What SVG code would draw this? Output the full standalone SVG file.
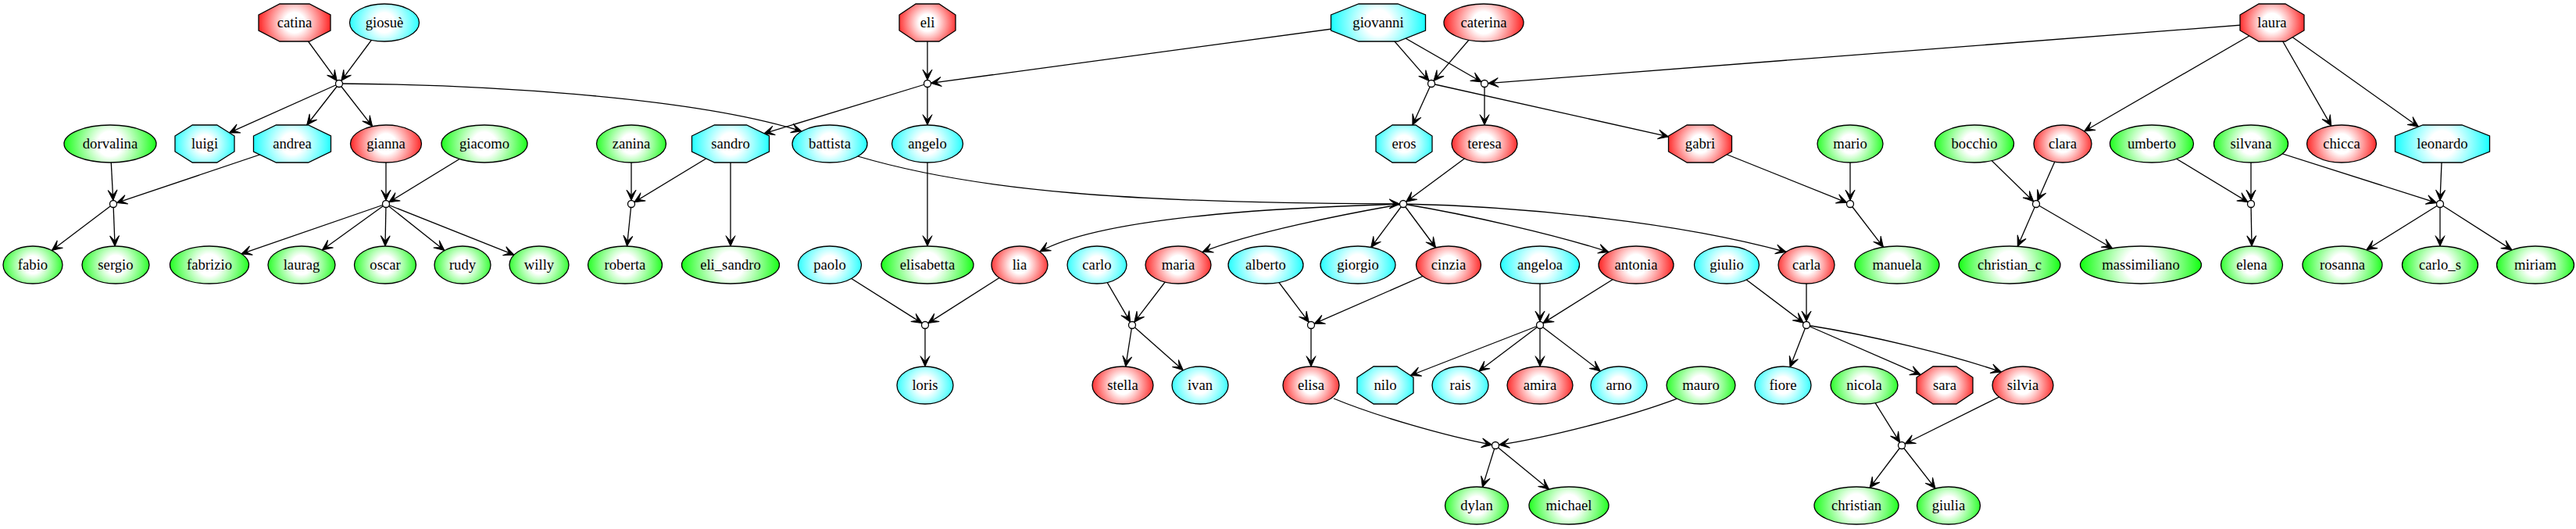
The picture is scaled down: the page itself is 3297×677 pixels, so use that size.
<svg xmlns="http://www.w3.org/2000/svg" width="3297" height="677" viewBox="0 0 3297 677">
<style>
.e{fill:none;stroke:#000;stroke-width:1.3;marker-end:url(#vee)}
.n{stroke:#000;stroke-width:1.3}
.j{fill:#fff;stroke:#000;stroke-width:1.3}
text{font-family:"Liberation Serif","Times New Roman",serif;font-size:18.67px;text-anchor:middle;fill:#000}
</style>
<defs>
<marker id="vee" viewBox="-14 -7 15 14" refX="0" refY="0" markerWidth="15" markerHeight="14" markerUnits="userSpaceOnUse" orient="auto"><path d="M0,0 L-13.3,-6 L-6.7,0 L-13.3,6 Z" fill="#000" stroke="#000" stroke-width="1"/></marker>
<radialGradient id="R" gradientUnits="userSpaceOnUse"><stop offset=".25" stop-color="#fff"/><stop offset="1" stop-color="#f00"/></radialGradient>
<radialGradient id="C" gradientUnits="userSpaceOnUse"><stop offset=".25" stop-color="#fff"/><stop offset="1" stop-color="#0ff"/></radialGradient>
<radialGradient id="G" gradientUnits="userSpaceOnUse"><stop offset=".25" stop-color="#fff"/><stop offset="1" stop-color="#0f0"/></radialGradient>
<radialGradient id="f-catina" href="#R" gradientUnits="userSpaceOnUse" cx="377" cy="29" r="51.9"/>
<radialGradient id="f-giosue" href="#C" gradientUnits="userSpaceOnUse" cx="492" cy="29" r="50.6"/>
<radialGradient id="f-eli" href="#R" gradientUnits="userSpaceOnUse" cx="1187" cy="29" r="43.3"/>
<radialGradient id="f-giovanni" href="#C" gradientUnits="userSpaceOnUse" cx="1764" cy="29" r="65.1"/>
<radialGradient id="f-caterina" href="#R" gradientUnits="userSpaceOnUse" cx="1899" cy="29" r="56.4"/>
<radialGradient id="f-laura" href="#R" gradientUnits="userSpaceOnUse" cx="2908" cy="29" r="47.5"/>
<radialGradient id="f-dorvalina" href="#G" gradientUnits="userSpaceOnUse" cx="141" cy="184" r="63.7"/>
<radialGradient id="f-luigi" href="#C" gradientUnits="userSpaceOnUse" cx="262" cy="184" r="44.9"/>
<radialGradient id="f-andrea" href="#C" gradientUnits="userSpaceOnUse" cx="374" cy="184" r="55"/>
<radialGradient id="f-gianna" href="#R" gradientUnits="userSpaceOnUse" cx="494" cy="184" r="51.4"/>
<radialGradient id="f-giacomo" href="#G" gradientUnits="userSpaceOnUse" cx="620" cy="184" r="60"/>
<radialGradient id="f-zanina" href="#G" gradientUnits="userSpaceOnUse" cx="808" cy="184" r="50.6"/>
<radialGradient id="f-sandro" href="#C" gradientUnits="userSpaceOnUse" cx="935" cy="184" r="55"/>
<radialGradient id="f-battista" href="#C" gradientUnits="userSpaceOnUse" cx="1062" cy="184" r="53.7"/>
<radialGradient id="f-angelo" href="#C" gradientUnits="userSpaceOnUse" cx="1187" cy="184" r="51.4"/>
<radialGradient id="f-eros" href="#C" gradientUnits="userSpaceOnUse" cx="1797" cy="184" r="43.3"/>
<radialGradient id="f-teresa" href="#R" gradientUnits="userSpaceOnUse" cx="1900" cy="184" r="48.4"/>
<radialGradient id="f-gabri" href="#R" gradientUnits="userSpaceOnUse" cx="2176" cy="184" r="47.1"/>
<radialGradient id="f-mario" href="#G" gradientUnits="userSpaceOnUse" cx="2368" cy="184" r="48.4"/>
<radialGradient id="f-bocchio" href="#G" gradientUnits="userSpaceOnUse" cx="2527" cy="184" r="55.9"/>
<radialGradient id="f-clara" href="#R" gradientUnits="userSpaceOnUse" cx="2640" cy="184" r="44.1"/>
<radialGradient id="f-umberto" href="#G" gradientUnits="userSpaceOnUse" cx="2754" cy="184" r="58.6"/>
<radialGradient id="f-silvana" href="#G" gradientUnits="userSpaceOnUse" cx="2881" cy="184" r="53.2"/>
<radialGradient id="f-chicca" href="#R" gradientUnits="userSpaceOnUse" cx="2997" cy="184" r="50.6"/>
<radialGradient id="f-leonardo" href="#C" gradientUnits="userSpaceOnUse" cx="3126" cy="184" r="65.1"/>
<radialGradient id="f-fabio" href="#G" gradientUnits="userSpaceOnUse" cx="42" cy="339" r="44.9"/>
<radialGradient id="f-sergio" href="#G" gradientUnits="userSpaceOnUse" cx="148" cy="339" r="49.2"/>
<radialGradient id="f-fabrizio" href="#G" gradientUnits="userSpaceOnUse" cx="268" cy="339" r="55.9"/>
<radialGradient id="f-laurag" href="#G" gradientUnits="userSpaceOnUse" cx="386" cy="339" r="49.2"/>
<radialGradient id="f-oscar" href="#G" gradientUnits="userSpaceOnUse" cx="493" cy="339" r="46.2"/>
<radialGradient id="f-rudy" href="#G" gradientUnits="userSpaceOnUse" cx="592" cy="339" r="43.3"/>
<radialGradient id="f-willy" href="#G" gradientUnits="userSpaceOnUse" cx="690" cy="339" r="44.9"/>
<radialGradient id="f-roberta" href="#G" gradientUnits="userSpaceOnUse" cx="800" cy="339" r="53.2"/>
<radialGradient id="f-eli_sandro" href="#G" gradientUnits="userSpaceOnUse" cx="935" cy="339" r="67"/>
<radialGradient id="f-paolo" href="#C" gradientUnits="userSpaceOnUse" cx="1062" cy="339" r="47.1"/>
<radialGradient id="f-elisabetta" href="#G" gradientUnits="userSpaceOnUse" cx="1187" cy="339" r="63.7"/>
<radialGradient id="f-lia" href="#R" gradientUnits="userSpaceOnUse" cx="1305" cy="339" r="43.3"/>
<radialGradient id="f-carlo" href="#C" gradientUnits="userSpaceOnUse" cx="1404" cy="339" r="44.9"/>
<radialGradient id="f-maria" href="#R" gradientUnits="userSpaceOnUse" cx="1508" cy="339" r="48.4"/>
<radialGradient id="f-alberto" href="#C" gradientUnits="userSpaceOnUse" cx="1620" cy="339" r="53.7"/>
<radialGradient id="f-giorgio" href="#C" gradientUnits="userSpaceOnUse" cx="1738" cy="339" r="53.7"/>
<radialGradient id="f-cinzia" href="#R" gradientUnits="userSpaceOnUse" cx="1854" cy="339" r="47.9"/>
<radialGradient id="f-angeloa" href="#C" gradientUnits="userSpaceOnUse" cx="1971" cy="339" r="55.9"/>
<radialGradient id="f-antonia" href="#R" gradientUnits="userSpaceOnUse" cx="2094" cy="339" r="53.7"/>
<radialGradient id="f-giulio" href="#C" gradientUnits="userSpaceOnUse" cx="2210" cy="339" r="47.9"/>
<radialGradient id="f-carla" href="#R" gradientUnits="userSpaceOnUse" cx="2312" cy="339" r="43.3"/>
<radialGradient id="f-manuela" href="#G" gradientUnits="userSpaceOnUse" cx="2428" cy="339" r="59.1"/>
<radialGradient id="f-christian_c" href="#G" gradientUnits="userSpaceOnUse" cx="2572" cy="339" r="69.3"/>
<radialGradient id="f-massimiliano" href="#G" gradientUnits="userSpaceOnUse" cx="2740" cy="339" r="81.1"/>
<radialGradient id="f-elena" href="#G" gradientUnits="userSpaceOnUse" cx="2882" cy="339" r="46.2"/>
<radialGradient id="f-rosanna" href="#G" gradientUnits="userSpaceOnUse" cx="2998" cy="339" r="56.4"/>
<radialGradient id="f-carlo_s" href="#G" gradientUnits="userSpaceOnUse" cx="3123" cy="339" r="54.1"/>
<radialGradient id="f-miriam" href="#G" gradientUnits="userSpaceOnUse" cx="3245" cy="339" r="55"/>
<radialGradient id="f-loris" href="#C" gradientUnits="userSpaceOnUse" cx="1184" cy="493" r="43.3"/>
<radialGradient id="f-stella" href="#R" gradientUnits="userSpaceOnUse" cx="1437" cy="493" r="45.8"/>
<radialGradient id="f-ivan" href="#C" gradientUnits="userSpaceOnUse" cx="1536" cy="493" r="43.3"/>
<radialGradient id="f-elisa" href="#R" gradientUnits="userSpaceOnUse" cx="1678" cy="493" r="43.3"/>
<radialGradient id="f-nilo" href="#C" gradientUnits="userSpaceOnUse" cx="1773" cy="493" r="43.3"/>
<radialGradient id="f-rais" href="#C" gradientUnits="userSpaceOnUse" cx="1869" cy="493" r="43.3"/>
<radialGradient id="f-amira" href="#R" gradientUnits="userSpaceOnUse" cx="1971" cy="493" r="48.4"/>
<radialGradient id="f-arno" href="#C" gradientUnits="userSpaceOnUse" cx="2072" cy="493" r="43.3"/>
<radialGradient id="f-mauro" href="#G" gradientUnits="userSpaceOnUse" cx="2177" cy="493" r="50.1"/>
<radialGradient id="f-fiore" href="#C" gradientUnits="userSpaceOnUse" cx="2282" cy="493" r="43.3"/>
<radialGradient id="f-nicola" href="#G" gradientUnits="userSpaceOnUse" cx="2386" cy="493" r="49.2"/>
<radialGradient id="f-sara" href="#R" gradientUnits="userSpaceOnUse" cx="2489" cy="493" r="43.3"/>
<radialGradient id="f-silvia" href="#R" gradientUnits="userSpaceOnUse" cx="2589" cy="493" r="45.8"/>
<radialGradient id="f-dylan" href="#G" gradientUnits="userSpaceOnUse" cx="1890" cy="647" r="47.1"/>
<radialGradient id="f-michael" href="#G" gradientUnits="userSpaceOnUse" cx="2008" cy="647" r="56.4"/>
<radialGradient id="f-christian" href="#G" gradientUnits="userSpaceOnUse" cx="2376" cy="647" r="59.1"/>
<radialGradient id="f-giulia" href="#G" gradientUnits="userSpaceOnUse" cx="2494" cy="647" r="47.1"/>
</defs>
<rect width="3297" height="677" fill="#fff"/>
<g id="connectors">
<path class="e" d="M377,29 L431.3,103.4"/>
<path class="e" d="M492,29 L436.7,103.4"/>
<path class="e" d="M434,107 L293.4,169.9"/>
<path class="e" d="M434,107 L392.7,160"/>
<path class="e" d="M434,107 L476.7,161.8"/>
<path class="e" d="M434,107 C600,108 880,122 1026,168"/>
<path class="e" d="M141,184 L144.8,256.5"/>
<path class="e" d="M374,184 L149.3,259.6"/>
<path class="e" d="M145,261 L66.3,320.6"/>
<path class="e" d="M145,261 L147.1,315"/>
<path class="e" d="M494,184 L494,256.5"/>
<path class="e" d="M620,184 L497.8,258.7"/>
<path class="e" d="M494,261 L308.9,324.9"/>
<path class="e" d="M494,261 L412.3,320"/>
<path class="e" d="M494,261 L493,315"/>
<path class="e" d="M494,261 L568.9,320.6"/>
<path class="e" d="M494,261 L657.9,326.2"/>
<path class="e" d="M808,184 L808,256.5"/>
<path class="e" d="M935,184 L811.8,258.7"/>
<path class="e" d="M808,261 L802.5,315"/>
<path class="e" d="M935,184 L935,315"/>
<path class="e" d="M1187,29 L1187,102.5"/>
<path class="e" d="M1764,29 L1191.5,106.4"/>
<path class="e" d="M1187,107 L977.9,170.9"/>
<path class="e" d="M1187,107 L1187,160"/>
<path class="e" d="M1187,184 L1187,315"/>
<path class="e" d="M1764,29 L1829,103.6"/>
<path class="e" d="M1899,29 L1834.9,103.6"/>
<path class="e" d="M1832,107 L1807.9,160"/>
<path class="e" d="M1832,107 L2135.5,174.9"/>
<path class="e" d="M1764,29 L1896.1,104.8"/>
<path class="e" d="M2908,29 L1904.5,106.65"/>
<path class="e" d="M1900,107 L1900,160"/>
<path class="e" d="M1900,184 L1799.6,258.3"/>
<path class="e" d="M1098,200 C1250,245 1450,260 1791.5,261"/>
<path class="e" d="M1796,261 C1700,264 1420,272 1331,322"/>
<path class="e" d="M1796,261 C1720,274 1600,298 1539,322.5"/>
<path class="e" d="M1796,261 L1754.7,316.5"/>
<path class="e" d="M1796,261 L1837.6,317"/>
<path class="e" d="M1796,261 C1880,275 1990,300 2059,322.5"/>
<path class="e" d="M1796,261 C1950,264 2150,285 2286,322.5"/>
<path class="e" d="M1062,339 L1180.2,413.6"/>
<path class="e" d="M1305,339 L1187.8,413.6"/>
<path class="e" d="M1184,416 L1184,469"/>
<path class="e" d="M1404,339 L1446.7,412.1"/>
<path class="e" d="M1508,339 L1451.7,412.4"/>
<path class="e" d="M1449,416 L1440.7,469.1"/>
<path class="e" d="M1449,416 L1514.3,473.8"/>
<path class="e" d="M1620,339 L1675.3,412.4"/>
<path class="e" d="M1854,339 L1682.1,414.2"/>
<path class="e" d="M1678,416 L1678,469"/>
<path class="e" d="M1971,339 L1971,411.5"/>
<path class="e" d="M2094,339 L1974.8,413.6"/>
<path class="e" d="M1971,416 L1805.2,480.5"/>
<path class="e" d="M1971,416 L1892.8,475"/>
<path class="e" d="M1971,416 L1971,469"/>
<path class="e" d="M1971,416 L2048.3,474.9"/>
<path class="e" d="M1707,510 C1760,532 1850,558 1909.6,569.2"/>
<path class="e" d="M2146,510.3 C2080,535 1980,560 1918.5,569.3"/>
<path class="e" d="M1914,570 L1897.4,623.4"/>
<path class="e" d="M1914,570 L1982.6,626.2"/>
<path class="e" d="M2176,184 L2363.8,259.3"/>
<path class="e" d="M2368,184 L2368,256.5"/>
<path class="e" d="M2368,261 L2410.5,316.3"/>
<path class="e" d="M2527,184 L2602.8,257.9"/>
<path class="e" d="M2640,184 L2607.8,256.9"/>
<path class="e" d="M2606,261 L2582.3,315.3"/>
<path class="e" d="M2606,261 L2703.6,317.8"/>
<path class="e" d="M2210,339 L2308.4,413.3"/>
<path class="e" d="M2312,339 L2312,411.5"/>
<path class="e" d="M2312,416 L2291,469.8"/>
<path class="e" d="M2312,416 L2458.2,479.6"/>
<path class="e" d="M2312,416 C2400,430 2500,455 2561.5,476"/>
<path class="e" d="M2386,493 L2431.6,566.2"/>
<path class="e" d="M2589,493 L2438,568"/>
<path class="e" d="M2434,570 L2393.1,624.2"/>
<path class="e" d="M2434,570 L2477,625.2"/>
<path class="e" d="M2908,29 L2667.6,168"/>
<path class="e" d="M2908,29 L2983.8,161.1"/>
<path class="e" d="M2908,29 L3095.4,162.2"/>
<path class="e" d="M2754,184 L2877.2,258.7"/>
<path class="e" d="M2881,184 L2881,256.5"/>
<path class="e" d="M2881,261 L2882,315"/>
<path class="e" d="M2881,184 L3118.7,259.6"/>
<path class="e" d="M3126,184 L3123,256.5"/>
<path class="e" d="M3123,261 L3028.7,319.8"/>
<path class="e" d="M3123,261 L3123,315"/>
<path class="e" d="M3123,261 L3215.1,319.9"/>
</g>
<g id="junctions">
<circle id="j1" class="j" cx="434" cy="107" r="4.5"/>
<circle id="j2" class="j" cx="1187" cy="107" r="4.5"/>
<circle id="j3" class="j" cx="1832" cy="107" r="4.5"/>
<circle id="j4" class="j" cx="1900" cy="107" r="4.5"/>
<circle id="j5" class="j" cx="145" cy="261" r="4.5"/>
<circle id="j6" class="j" cx="494" cy="261" r="4.5"/>
<circle id="j7" class="j" cx="808" cy="261" r="4.5"/>
<circle id="j8" class="j" cx="1796" cy="261" r="4.5"/>
<circle id="j9" class="j" cx="2368" cy="261" r="4.5"/>
<circle id="j10" class="j" cx="2606" cy="261" r="4.5"/>
<circle id="j11" class="j" cx="2881" cy="261" r="4.5"/>
<circle id="j12" class="j" cx="3123" cy="261" r="4.5"/>
<circle id="j13" class="j" cx="1184" cy="416" r="4.5"/>
<circle id="j14" class="j" cx="1449" cy="416" r="4.5"/>
<circle id="j15" class="j" cx="1678" cy="416" r="4.5"/>
<circle id="j16" class="j" cx="1971" cy="416" r="4.5"/>
<circle id="j17" class="j" cx="2312" cy="416" r="4.5"/>
<circle id="j18" class="j" cx="1914" cy="570" r="4.5"/>
<circle id="j19" class="j" cx="2434" cy="570" r="4.5"/>
</g>
<g id="n-catina"><polygon class="n" fill="url(#f-catina)" points="331,19 358,5 396,5 423,19 423,39 396,53 358,53 331,39"/><text x="377" y="34.5">catina</text></g>
<g id="n-giosue"><ellipse class="n" fill="url(#f-giosue)" cx="492" cy="29" rx="44.5" ry="24"/><text x="492" y="34.5">giosuè</text></g>
<g id="n-eli"><polygon class="n" fill="url(#f-eli)" points="1151,19 1172.1,5 1201.9,5 1223,19 1223,39 1201.9,53 1172.1,53 1151,39"/><text x="1187" y="34.5">eli</text></g>
<g id="n-giovanni"><polygon class="n" fill="url(#f-giovanni)" points="1703.5,19 1739,5 1789,5 1824.5,19 1824.5,39 1789,53 1739,53 1703.5,39"/><text x="1764" y="34.5">giovanni</text></g>
<g id="n-caterina"><ellipse class="n" fill="url(#f-caterina)" cx="1899" cy="29" rx="51" ry="24"/><text x="1899" y="34.5">caterina</text></g>
<g id="n-laura"><polygon class="n" fill="url(#f-laura)" points="2867,19 2891,5 2925,5 2949,19 2949,39 2925,53 2891,53 2867,39"/><text x="2908" y="34.5">laura</text></g>
<g id="n-dorvalina"><ellipse class="n" fill="url(#f-dorvalina)" cx="141" cy="184" rx="59" ry="24"/><text x="141" y="189.5">dorvalina</text></g>
<g id="n-luigi"><polygon class="n" fill="url(#f-luigi)" points="224,174 246.3,160 277.7,160 300,174 300,194 277.7,208 246.3,208 224,194"/><text x="262" y="189.5">luigi</text></g>
<g id="n-andrea"><polygon class="n" fill="url(#f-andrea)" points="324.5,174 353.5,160 394.5,160 423.5,174 423.5,194 394.5,208 353.5,208 324.5,194"/><text x="374" y="189.5">andrea</text></g>
<g id="n-gianna"><ellipse class="n" fill="url(#f-gianna)" cx="494" cy="184" rx="45.5" ry="24"/><text x="494" y="189.5">gianna</text></g>
<g id="n-giacomo"><ellipse class="n" fill="url(#f-giacomo)" cx="620" cy="184" rx="55" ry="24"/><text x="620" y="189.5">giacomo</text></g>
<g id="n-zanina"><ellipse class="n" fill="url(#f-zanina)" cx="808" cy="184" rx="44.5" ry="24"/><text x="808" y="189.5">zanina</text></g>
<g id="n-sandro"><polygon class="n" fill="url(#f-sandro)" points="885.5,174 914.5,160 955.5,160 984.5,174 984.5,194 955.5,208 914.5,208 885.5,194"/><text x="935" y="189.5">sandro</text></g>
<g id="n-battista"><ellipse class="n" fill="url(#f-battista)" cx="1062" cy="184" rx="48" ry="24"/><text x="1062" y="189.5">battista</text></g>
<g id="n-angelo"><ellipse class="n" fill="url(#f-angelo)" cx="1187" cy="184" rx="45.5" ry="24"/><text x="1187" y="189.5">angelo</text></g>
<g id="n-eros"><polygon class="n" fill="url(#f-eros)" points="1761,174 1782.1,160 1811.9,160 1833,174 1833,194 1811.9,208 1782.1,208 1761,194"/><text x="1797" y="189.5">eros</text></g>
<g id="n-teresa"><ellipse class="n" fill="url(#f-teresa)" cx="1900" cy="184" rx="42" ry="24"/><text x="1900" y="189.5">teresa</text></g>
<g id="n-gabri"><polygon class="n" fill="url(#f-gabri)" points="2135.5,174 2159.2,160 2192.8,160 2216.5,174 2216.5,194 2192.8,208 2159.2,208 2135.5,194"/><text x="2176" y="189.5">gabri</text></g>
<g id="n-mario"><ellipse class="n" fill="url(#f-mario)" cx="2368" cy="184" rx="42" ry="24"/><text x="2368" y="189.5">mario</text></g>
<g id="n-bocchio"><ellipse class="n" fill="url(#f-bocchio)" cx="2527" cy="184" rx="50.5" ry="24"/><text x="2527" y="189.5">bocchio</text></g>
<g id="n-clara"><ellipse class="n" fill="url(#f-clara)" cx="2640" cy="184" rx="37" ry="24"/><text x="2640" y="189.5">clara</text></g>
<g id="n-umberto"><ellipse class="n" fill="url(#f-umberto)" cx="2754" cy="184" rx="53.5" ry="24"/><text x="2754" y="189.5">umberto</text></g>
<g id="n-silvana"><ellipse class="n" fill="url(#f-silvana)" cx="2881" cy="184" rx="47.5" ry="24"/><text x="2881" y="189.5">silvana</text></g>
<g id="n-chicca"><ellipse class="n" fill="url(#f-chicca)" cx="2997" cy="184" rx="44.5" ry="24"/><text x="2997" y="189.5">chicca</text></g>
<g id="n-leonardo"><polygon class="n" fill="url(#f-leonardo)" points="3065.5,174 3101,160 3151,160 3186.5,174 3186.5,194 3151,208 3101,208 3065.5,194"/><text x="3126" y="189.5">leonardo</text></g>
<g id="n-fabio"><ellipse class="n" fill="url(#f-fabio)" cx="42" cy="339" rx="38" ry="24"/><text x="42" y="344.5">fabio</text></g>
<g id="n-sergio"><ellipse class="n" fill="url(#f-sergio)" cx="148" cy="339" rx="43" ry="24"/><text x="148" y="344.5">sergio</text></g>
<g id="n-fabrizio"><ellipse class="n" fill="url(#f-fabrizio)" cx="268" cy="339" rx="50.5" ry="24"/><text x="268" y="344.5">fabrizio</text></g>
<g id="n-laurag"><ellipse class="n" fill="url(#f-laurag)" cx="386" cy="339" rx="43" ry="24"/><text x="386" y="344.5">laurag</text></g>
<g id="n-oscar"><ellipse class="n" fill="url(#f-oscar)" cx="493" cy="339" rx="39.5" ry="24"/><text x="493" y="344.5">oscar</text></g>
<g id="n-rudy"><ellipse class="n" fill="url(#f-rudy)" cx="592" cy="339" rx="36" ry="24"/><text x="592" y="344.5">rudy</text></g>
<g id="n-willy"><ellipse class="n" fill="url(#f-willy)" cx="690" cy="339" rx="38" ry="24"/><text x="690" y="344.5">willy</text></g>
<g id="n-roberta"><ellipse class="n" fill="url(#f-roberta)" cx="800" cy="339" rx="47.5" ry="24"/><text x="800" y="344.5">roberta</text></g>
<g id="n-eli_sandro"><ellipse class="n" fill="url(#f-eli_sandro)" cx="935" cy="339" rx="62.5" ry="24"/><text x="935" y="344.5">eli_sandro</text></g>
<g id="n-paolo"><ellipse class="n" fill="url(#f-paolo)" cx="1062" cy="339" rx="40.5" ry="24"/><text x="1062" y="344.5">paolo</text></g>
<g id="n-elisabetta"><ellipse class="n" fill="url(#f-elisabetta)" cx="1187" cy="339" rx="59" ry="24"/><text x="1187" y="344.5">elisabetta</text></g>
<g id="n-lia"><ellipse class="n" fill="url(#f-lia)" cx="1305" cy="339" rx="36" ry="24"/><text x="1305" y="344.5">lia</text></g>
<g id="n-carlo"><ellipse class="n" fill="url(#f-carlo)" cx="1404" cy="339" rx="38" ry="24"/><text x="1404" y="344.5">carlo</text></g>
<g id="n-maria"><ellipse class="n" fill="url(#f-maria)" cx="1508" cy="339" rx="42" ry="24"/><text x="1508" y="344.5">maria</text></g>
<g id="n-alberto"><ellipse class="n" fill="url(#f-alberto)" cx="1620" cy="339" rx="48" ry="24"/><text x="1620" y="344.5">alberto</text></g>
<g id="n-giorgio"><ellipse class="n" fill="url(#f-giorgio)" cx="1738" cy="339" rx="48" ry="24"/><text x="1738" y="344.5">giorgio</text></g>
<g id="n-cinzia"><ellipse class="n" fill="url(#f-cinzia)" cx="1854" cy="339" rx="41.5" ry="24"/><text x="1854" y="344.5">cinzia</text></g>
<g id="n-angeloa"><ellipse class="n" fill="url(#f-angeloa)" cx="1971" cy="339" rx="50.5" ry="24"/><text x="1971" y="344.5">angeloa</text></g>
<g id="n-antonia"><ellipse class="n" fill="url(#f-antonia)" cx="2094" cy="339" rx="48" ry="24"/><text x="2094" y="344.5">antonia</text></g>
<g id="n-giulio"><ellipse class="n" fill="url(#f-giulio)" cx="2210" cy="339" rx="41.5" ry="24"/><text x="2210" y="344.5">giulio</text></g>
<g id="n-carla"><ellipse class="n" fill="url(#f-carla)" cx="2312" cy="339" rx="36" ry="24"/><text x="2312" y="344.5">carla</text></g>
<g id="n-manuela"><ellipse class="n" fill="url(#f-manuela)" cx="2428" cy="339" rx="54" ry="24"/><text x="2428" y="344.5">manuela</text></g>
<g id="n-christian_c"><ellipse class="n" fill="url(#f-christian_c)" cx="2572" cy="339" rx="65" ry="24"/><text x="2572" y="344.5">christian_c</text></g>
<g id="n-massimiliano"><ellipse class="n" fill="url(#f-massimiliano)" cx="2740" cy="339" rx="77.5" ry="24"/><text x="2740" y="344.5">massimiliano</text></g>
<g id="n-elena"><ellipse class="n" fill="url(#f-elena)" cx="2882" cy="339" rx="39.5" ry="24"/><text x="2882" y="344.5">elena</text></g>
<g id="n-rosanna"><ellipse class="n" fill="url(#f-rosanna)" cx="2998" cy="339" rx="51" ry="24"/><text x="2998" y="344.5">rosanna</text></g>
<g id="n-carlo_s"><ellipse class="n" fill="url(#f-carlo_s)" cx="3123" cy="339" rx="48.5" ry="24"/><text x="3123" y="344.5">carlo_s</text></g>
<g id="n-miriam"><ellipse class="n" fill="url(#f-miriam)" cx="3245" cy="339" rx="49.5" ry="24"/><text x="3245" y="344.5">miriam</text></g>
<g id="n-loris"><ellipse class="n" fill="url(#f-loris)" cx="1184" cy="493" rx="36" ry="24"/><text x="1184" y="498.5">loris</text></g>
<g id="n-stella"><ellipse class="n" fill="url(#f-stella)" cx="1437" cy="493" rx="39" ry="24"/><text x="1437" y="498.5">stella</text></g>
<g id="n-ivan"><ellipse class="n" fill="url(#f-ivan)" cx="1536" cy="493" rx="36" ry="24"/><text x="1536" y="498.5">ivan</text></g>
<g id="n-elisa"><ellipse class="n" fill="url(#f-elisa)" cx="1678" cy="493" rx="36" ry="24"/><text x="1678" y="498.5">elisa</text></g>
<g id="n-nilo"><polygon class="n" fill="url(#f-nilo)" points="1737,483 1758.1,469 1787.9,469 1809,483 1809,503 1787.9,517 1758.1,517 1737,503"/><text x="1773" y="498.5">nilo</text></g>
<g id="n-rais"><ellipse class="n" fill="url(#f-rais)" cx="1869" cy="493" rx="36" ry="24"/><text x="1869" y="498.5">rais</text></g>
<g id="n-amira"><ellipse class="n" fill="url(#f-amira)" cx="1971" cy="493" rx="42" ry="24"/><text x="1971" y="498.5">amira</text></g>
<g id="n-arno"><ellipse class="n" fill="url(#f-arno)" cx="2072" cy="493" rx="36" ry="24"/><text x="2072" y="498.5">arno</text></g>
<g id="n-mauro"><ellipse class="n" fill="url(#f-mauro)" cx="2177" cy="493" rx="44" ry="24"/><text x="2177" y="498.5">mauro</text></g>
<g id="n-fiore"><ellipse class="n" fill="url(#f-fiore)" cx="2282" cy="493" rx="36" ry="24"/><text x="2282" y="498.5">fiore</text></g>
<g id="n-nicola"><ellipse class="n" fill="url(#f-nicola)" cx="2386" cy="493" rx="43" ry="24"/><text x="2386" y="498.5">nicola</text></g>
<g id="n-sara"><polygon class="n" fill="url(#f-sara)" points="2453,483 2474.1,469 2503.9,469 2525,483 2525,503 2503.9,517 2474.1,517 2453,503"/><text x="2489" y="498.5">sara</text></g>
<g id="n-silvia"><ellipse class="n" fill="url(#f-silvia)" cx="2589" cy="493" rx="39" ry="24"/><text x="2589" y="498.5">silvia</text></g>
<g id="n-dylan"><ellipse class="n" fill="url(#f-dylan)" cx="1890" cy="647" rx="40.5" ry="24"/><text x="1890" y="652.5">dylan</text></g>
<g id="n-michael"><ellipse class="n" fill="url(#f-michael)" cx="2008" cy="647" rx="51" ry="24"/><text x="2008" y="652.5">michael</text></g>
<g id="n-christian"><ellipse class="n" fill="url(#f-christian)" cx="2376" cy="647" rx="54" ry="24"/><text x="2376" y="652.5">christian</text></g>
<g id="n-giulia"><ellipse class="n" fill="url(#f-giulia)" cx="2494" cy="647" rx="40.5" ry="24"/><text x="2494" y="652.5">giulia</text></g>
</svg>
